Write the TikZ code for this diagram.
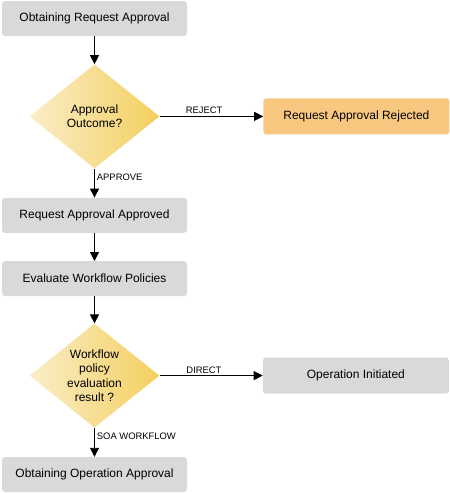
\documentclass[tikz,border=0pt]{standalone}
\usepackage{fontspec}
\setmainfont{Liberation Sans}
\usepackage{tikz}
\usetikzlibrary{
    arrows.meta,
    positioning,
    shapes.geometric
}
\definecolor{boxgray}{HTML}{D9D9D9}
\definecolor{rejorange}{HTML}{F9C880}
\definecolor{decleft}{HTML}{FAEDC8}
\definecolor{decright}{HTML}{F4CF5F}

\begin{document}
\begin{tikzpicture}[
    x=1pt, y=1pt,
    node distance=28pt,
    stepbox/.style={
        rectangle,
        fill=boxgray,
        rounded corners=3pt,
        align=center,
        minimum width=185pt,
        minimum height=35pt,
        font=\fontsize{12}{14.4}\selectfont
    },
    rejectbox/.style={
        stepbox,
        fill=rejorange,
        minimum width=186pt,
        minimum height=36pt
    },
    decision/.style={
        diamond,
        aspect=1.24,
        left color=decleft,
        right color=decright,
        align=center,
        inner sep=0pt,
        minimum width=130pt,
        minimum height=104pt,
        font=\fontsize{12}{14.4}\selectfont
    },
    lbl/.style={
        font=\fontsize{9.4}{10}\selectfont,
        inner sep=2pt
    },
    arrow/.style={
        -{Triangle[length=9pt,width=9pt]},
        line width=0.9pt
    }
]
\useasboundingbox (0,0) rectangle (450,-493);

\node[stepbox] (obtreq) at (94.5,-18.5) {Obtaining Request Approval};
\node[decision, below=of obtreq] (outcome) {Approval\\Outcome?};
\node[rejectbox, right=103.5pt of outcome] (rejected) {Request Approval Rejected};
\node[stepbox, below=29pt of outcome] (approved) {Request Approval Approved};
\node[stepbox, below=of approved] (evalwf) {Evaluate Workflow Policies};
\node[decision, below=27pt of evalwf] (wfresult) {Workflow\\policy\\evaluation\\result ?};
\node[stepbox, right=103pt of wfresult, minimum width=186pt, minimum height=36pt] (initiated) {Operation Initiated};
\node[stepbox, below=29pt of wfresult] (obtop) {Obtaining Operation Approval};

% Main flow
\draw[arrow] (obtreq) -- (outcome);
\draw[arrow] (outcome) -- node[lbl, right, pos=0.3]{APPROVE} (approved);
\draw[arrow] (approved) -- (evalwf);
\draw[arrow] (evalwf) -- (wfresult);
\draw[arrow] (wfresult) -- node[lbl, right, pos=0.3]{SOA WORKFLOW} (obtop);

% Side branches
\draw[arrow] (outcome.east) -- node[lbl, above, pos=0.43]{REJECT} (rejected.west |- outcome.east);
\draw[arrow] (wfresult.east) -- node[lbl, above, pos=0.43]{DIRECT} (initiated.west |- wfresult.east);

\end{tikzpicture}
\end{document}
